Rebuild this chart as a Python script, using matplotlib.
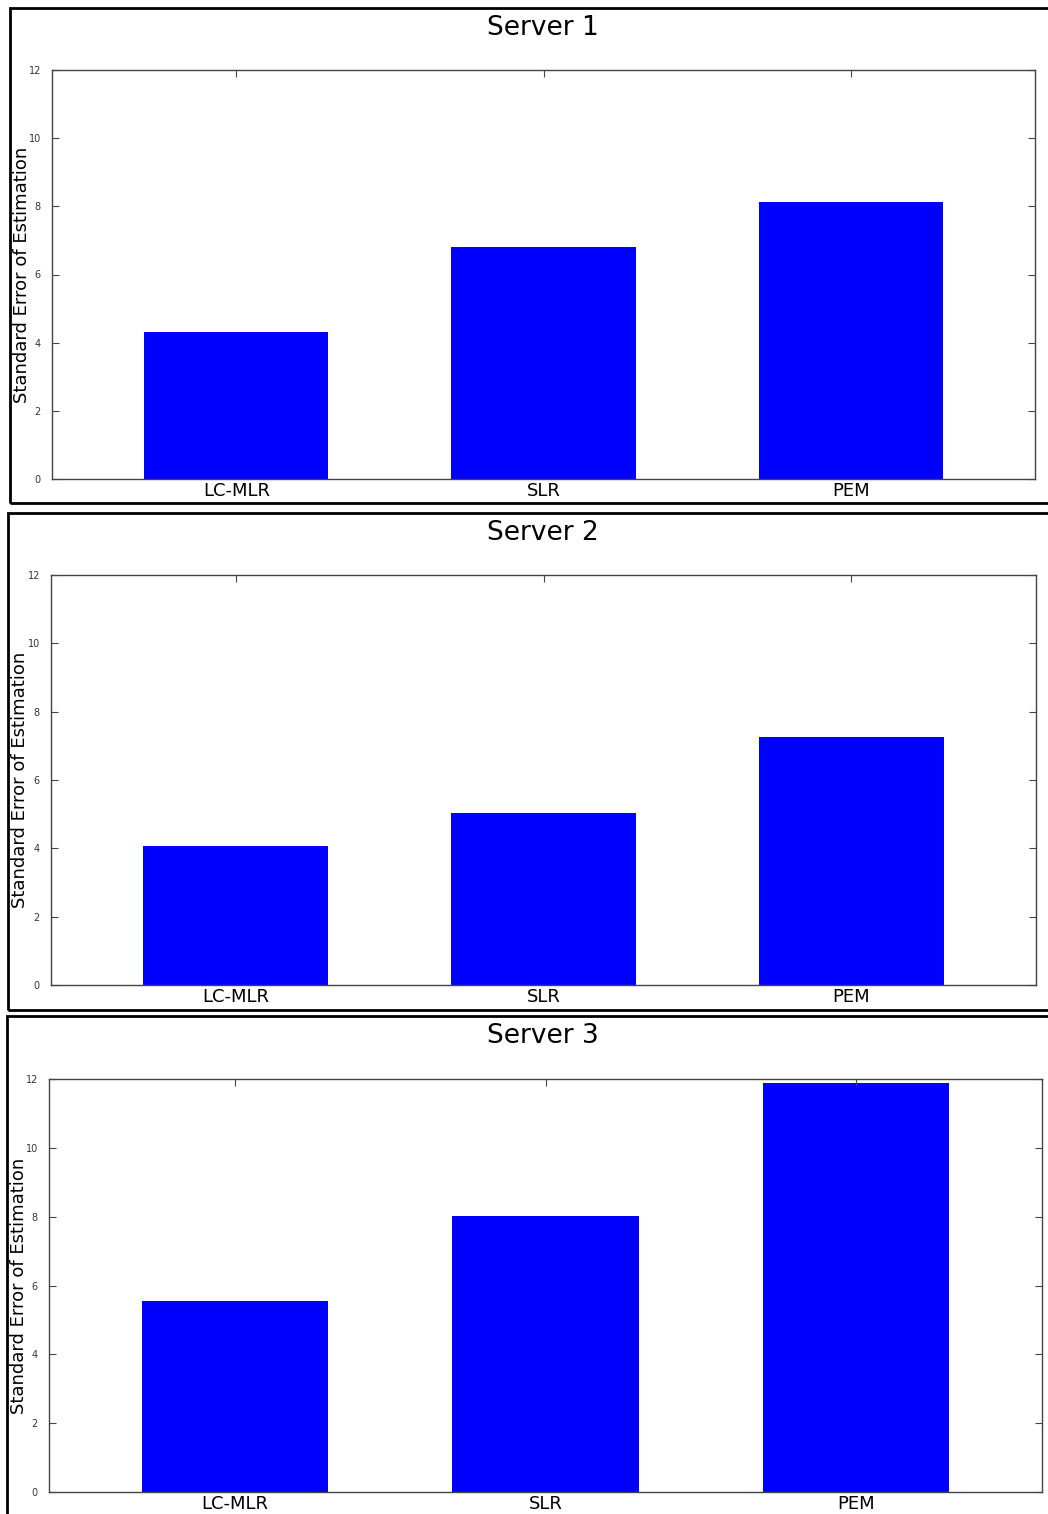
import matplotlib
matplotlib.use("Agg")
import matplotlib.pyplot as plt
from matplotlib.patches import Rectangle

methods = ["LC-MLR", "SLR", "PEM"]
server1 = [4.31, 6.80, 8.12]
server2 = [4.07, 5.03, 7.26]
server3 = [5.55, 8.02, 11.89]
titles = ["Server 1", "Server 2", "Server 3"]

W, H = 1048, 1514
fig = plt.figure(figsize=(W / 100, H / 100), dpi=100)

# pixel boxes: (frame left, top, bottom), (axes left, right, top, bottom)
frames = [(10, 8, 503), (8, 513, 1010), (7, 1016, 1520)]
boxes = [(52, 1035, 70, 479), (51, 1036, 575, 985), (49, 1042, 1079, 1492)]
title_y = [28, 533, 1036]

for i, vals in enumerate([server1, server2, server3]):
    fx, ft, fb = frames[i]
    fig.patches.append(Rectangle((fx / W, 1 - fb / H), (W + 20 - fx) / W, (fb - ft) / H,
                                 transform=fig.transFigure, fill=False,
                                 edgecolor="black", linewidth=2, zorder=0))
    l, r, t, b = boxes[i]
    ax = fig.add_axes([l / W, 1 - b / H, (r - l) / W, (b - t) / H])
    x = list(range(len(methods)))
    ax.bar(x, vals, width=0.6, color="#0000ff", edgecolor="none")
    ax.set_xlim(-0.6, 2.6)
    ax.set_ylim(0, 12)
    ax.set_yticks(range(0, 13, 2))
    ax.set_xticks(x)
    ax.set_xticklabels(methods, fontsize=13)
    ax.tick_params(axis="y", labelsize=7, labelcolor="#333333", direction="in",
                   right=True, length=5, width=0.8, color="#444444", pad=8)
    ax.tick_params(axis="x", direction="in", top=True, bottom=False, length=5,
                   width=0.8, color="#444444", pad=2)
    for s in ax.spines.values():
        s.set_color("#444444")
        s.set_linewidth(1.0)
    fig.text((fx + 12) / W, 1 - (t + b) / 2 / H, "Standard Error of Estimation",
             fontsize=13, rotation=90, ha="center", va="center")
    fig.text(543 / W, 1 - title_y[i] / H, titles[i], fontsize=19,
             ha="center", va="center")

fig.savefig("out.png", dpi=100)
